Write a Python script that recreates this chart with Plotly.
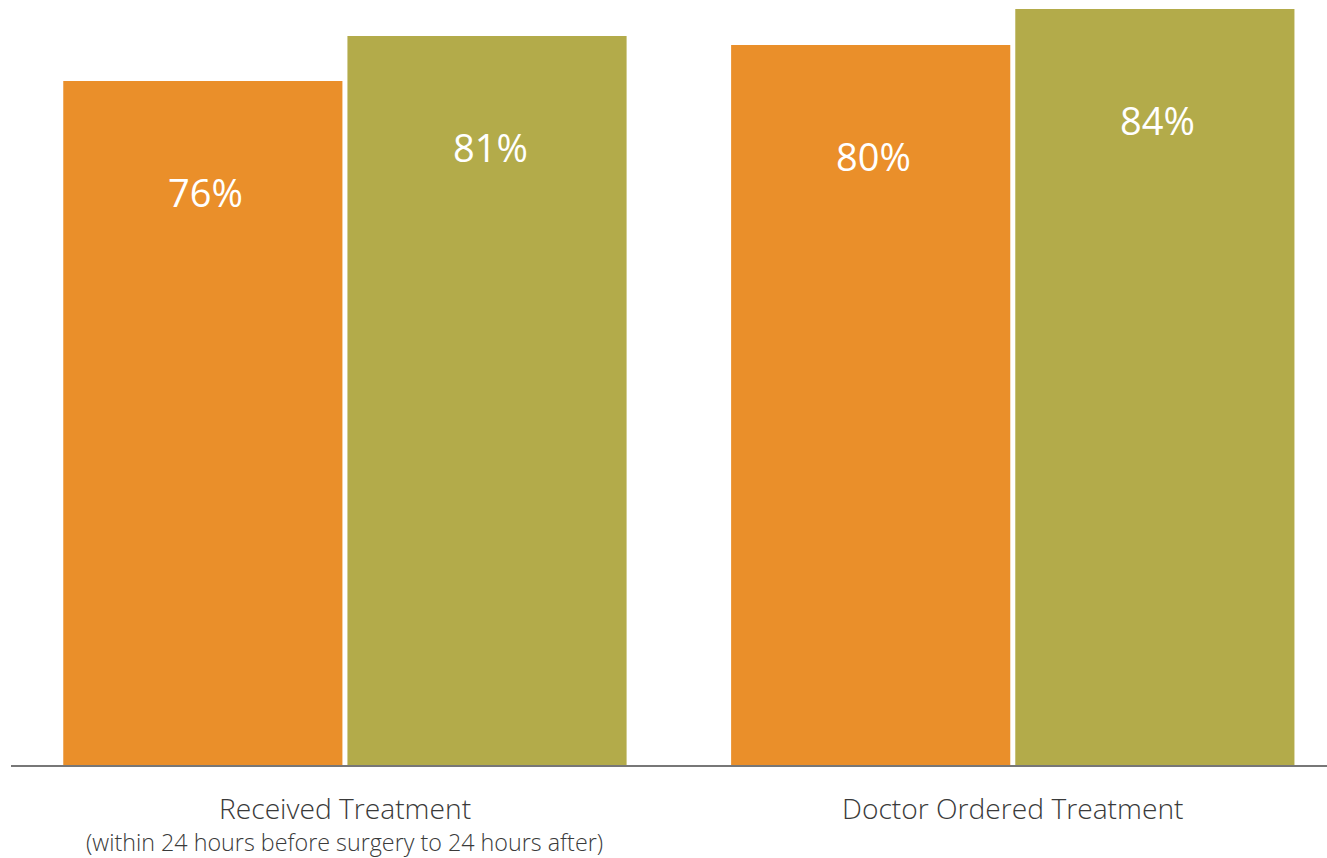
import plotly.graph_objects as go

categories = ["Received Treatment", "Doctor Ordered Treatment"]
sub_labels = ["(within 24 hours before surgery to 24 hours after)", ""]
series_names = ["Series 1", "Series 2"]
series_a = [76, 80]
series_b = [81, 84]
colors = ["#EA8F2A", "#B3AB4A"]

BARGAP = 0.149
GROUPGAP = 0.0176
FONT = "Open Sans"

fig = go.Figure()
for name, vals, col in zip(series_names, [series_a, series_b], colors):
    fig.add_trace(go.Bar(x=categories, y=vals, name=name, marker=dict(color=col, line=dict(width=0)),
                         hoverinfo="x+y"))

annotations = []
slot = (1 - BARGAP) / 2
for si, vals in enumerate([series_a, series_b]):
    off = (si - 0.5) * slot
    for ci, v in enumerate(vals):
        annotations.append(dict(x=ci + off, y=v, xref="x", yref="y", text=f"{v}%",
                                showarrow=False, yanchor="middle", yshift=-111, xshift=3,
                                font=dict(family=FONT, size=38, color="white")))
for ci, (cat, sub) in enumerate(zip(categories, sub_labels)):
    annotations.append(dict(x=ci, y=808, xref="x", yref="paper", text=cat, showarrow=False,
                            yanchor="middle", font=dict(family=FONT, size=28.2, color="#3a3a3a", weight=300)))
    if sub:
        annotations.append(dict(x=ci, y=842, xref="x", yref="paper", text=sub, showarrow=False,
                                yanchor="middle", font=dict(family=FONT, size=23.3, color="#3a3a3a", weight=300)))

# convert pixel y positions of category labels into paper coordinates
H, T, B = 858, 0, 93
ph = H - T - B
for a in annotations:
    if a["yref"] == "paper":
        a["y"] = (H - B - a["y"]) / ph

fig.update_layout(
    width=1327, height=858,
    margin=dict(l=11, r=0, t=0, b=B, pad=0),
    paper_bgcolor="white", plot_bgcolor="white",
    barmode="group", bargap=BARGAP, bargroupgap=GROUPGAP,
    showlegend=False,
    annotations=annotations,
    xaxis=dict(type="category", range=[-0.5, 1.4705], showticklabels=False, ticks="",
               showline=True, linecolor="#777777", linewidth=2, showgrid=False, zeroline=False),
    yaxis=dict(range=[0, 85], visible=False, showgrid=False, zeroline=False),
)
fig.write_html("out.html")
